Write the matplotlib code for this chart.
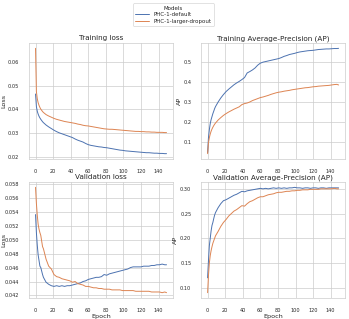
import matplotlib
matplotlib.use("Agg")
import matplotlib.pyplot as plt
import seaborn as sns

epochs = [0, 1, 2, 3, 4, 5, 6, 7, 8, 9,
          12, 15, 18, 21, 24, 27, 30, 33, 36, 39,
          42, 45, 48, 51, 54, 57, 60, 63, 66, 69,
          72, 75, 78, 81, 84, 87, 90, 93, 96, 99,
          102, 105, 108, 111, 114, 117, 120, 123, 126, 129,
          132, 135, 138, 141, 144, 147, 149]

models = ["PHC-1-default", "PHC-1-larger-dropout"]

train_loss_default = [0.0465, 0.0412, 0.0392, 0.0380, 0.0371, 0.0364, 0.0358, 0.0353, 0.0348, 0.0344,
                      0.0334, 0.0326, 0.0319, 0.0312, 0.0306, 0.0301, 0.0297, 0.0293, 0.0289, 0.0285,
                      0.0281, 0.0275, 0.0270, 0.0266, 0.0262, 0.0256, 0.0251, 0.0248, 0.0246, 0.0244,
                      0.0242, 0.0241, 0.0239, 0.0238, 0.0236, 0.0234, 0.0232, 0.0230, 0.0228, 0.0227,
                      0.0225, 0.0224, 0.0223, 0.0222, 0.0221, 0.0220, 0.0219, 0.0218, 0.0217, 0.0217,
                      0.0216, 0.0215, 0.0215, 0.0214, 0.0214, 0.0213, 0.0213]
train_loss_dropout = [0.0658, 0.0475, 0.0445, 0.0428, 0.0417, 0.0408, 0.0401, 0.0396, 0.0391, 0.0387,
                      0.0378, 0.0372, 0.0367, 0.0362, 0.0358, 0.0355, 0.0352, 0.0349, 0.0347, 0.0345,
                      0.0343, 0.0341, 0.0338, 0.0336, 0.0333, 0.0331, 0.0330, 0.0328, 0.0326, 0.0324,
                      0.0322, 0.0320, 0.0318, 0.0317, 0.0316, 0.0316, 0.0315, 0.0314, 0.0313, 0.0312,
                      0.0311, 0.0310, 0.0309, 0.0308, 0.0307, 0.0307, 0.0306, 0.0306, 0.0305, 0.0305,
                      0.0304, 0.0304, 0.0303, 0.0303, 0.0303, 0.0302, 0.0302]

train_ap_default = [0.045, 0.120, 0.160, 0.190, 0.210, 0.225, 0.240, 0.252, 0.265, 0.275,
                    0.298, 0.318, 0.335, 0.350, 0.362, 0.373, 0.384, 0.393, 0.401, 0.410,
                    0.420, 0.443, 0.450, 0.458, 0.468, 0.482, 0.492, 0.497, 0.500, 0.503,
                    0.506, 0.509, 0.512, 0.515, 0.520, 0.526, 0.530, 0.535, 0.538, 0.541,
                    0.545, 0.548, 0.550, 0.552, 0.554, 0.555, 0.556, 0.558, 0.560, 0.561,
                    0.562, 0.563, 0.563, 0.564, 0.565, 0.565, 0.566]
train_ap_dropout = [0.040, 0.095, 0.120, 0.138, 0.152, 0.163, 0.172, 0.180, 0.187, 0.193,
                    0.208, 0.220, 0.231, 0.240, 0.248, 0.255, 0.262, 0.268, 0.274, 0.285,
                    0.290, 0.293, 0.298, 0.305, 0.310, 0.315, 0.320, 0.323, 0.327, 0.331,
                    0.336, 0.340, 0.344, 0.347, 0.349, 0.352, 0.354, 0.356, 0.359, 0.361,
                    0.363, 0.365, 0.367, 0.369, 0.370, 0.372, 0.374, 0.375, 0.377, 0.378,
                    0.379, 0.380, 0.381, 0.383, 0.385, 0.386, 0.383]

val_loss_default = [0.0536, 0.0510, 0.0492, 0.0478, 0.0470, 0.0462, 0.0460, 0.0455, 0.0450, 0.0446,
                    0.0439, 0.0436, 0.0434, 0.0433, 0.0434, 0.0433, 0.0434, 0.0433, 0.0434, 0.0434,
                    0.0435, 0.0436, 0.0437, 0.0438, 0.0440, 0.0441, 0.0443, 0.0444, 0.0445, 0.0446,
                    0.0446, 0.0447, 0.0450, 0.0449, 0.0451, 0.0452, 0.0453, 0.0454, 0.0455, 0.0456,
                    0.0457, 0.0458, 0.0460, 0.0461, 0.0461, 0.0461, 0.0461, 0.0462, 0.0462, 0.0462,
                    0.0463, 0.0463, 0.0464, 0.0464, 0.0465, 0.0464, 0.0464]
val_loss_dropout = [0.0575, 0.0552, 0.0535, 0.0522, 0.0515, 0.0510, 0.0506, 0.0498, 0.0490, 0.0487,
                    0.0472, 0.0462, 0.0458, 0.0450, 0.0447, 0.0446, 0.0444, 0.0443, 0.0442, 0.0441,
                    0.0439, 0.0440, 0.0437, 0.0436, 0.0435, 0.0433, 0.0433, 0.0432, 0.0431, 0.0431,
                    0.0430, 0.0430, 0.0429, 0.0429, 0.0429, 0.0428, 0.0428, 0.0428, 0.0428, 0.0427,
                    0.0427, 0.0427, 0.0427, 0.0427, 0.0426, 0.0426, 0.0426, 0.0426, 0.0426, 0.0426,
                    0.0425, 0.0425, 0.0425, 0.0425, 0.0424, 0.0425, 0.0424]

val_ap_default = [0.120, 0.155, 0.185, 0.200, 0.215, 0.226, 0.232, 0.240, 0.247, 0.252,
                  0.262, 0.270, 0.276, 0.278, 0.281, 0.284, 0.287, 0.289, 0.292, 0.295,
                  0.294, 0.296, 0.297, 0.298, 0.299, 0.300, 0.301, 0.300, 0.301, 0.300,
                  0.301, 0.302, 0.301, 0.302, 0.301, 0.302, 0.301, 0.302, 0.302, 0.303,
                  0.302, 0.302, 0.301, 0.302, 0.302, 0.301, 0.302, 0.302, 0.301, 0.302,
                  0.302, 0.301, 0.302, 0.302, 0.302, 0.302, 0.302]
val_ap_dropout = [0.090, 0.125, 0.150, 0.165, 0.175, 0.183, 0.190, 0.195, 0.200, 0.205,
                  0.214, 0.224, 0.232, 0.238, 0.245, 0.250, 0.255, 0.258, 0.262, 0.266,
                  0.265, 0.270, 0.274, 0.276, 0.279, 0.282, 0.284, 0.284, 0.286, 0.288,
                  0.289, 0.290, 0.292, 0.293, 0.293, 0.294, 0.295, 0.295, 0.296, 0.296,
                  0.297, 0.297, 0.298, 0.298, 0.298, 0.299, 0.299, 0.299, 0.299, 0.300,
                  0.300, 0.300, 0.300, 0.300, 0.301, 0.300, 0.300]

sns.set_theme(style="whitegrid")
plt.rcParams['font.family'] = ['DejaVu Sans']
colors = sns.color_palette("deep")[:2]

fig, axes = plt.subplots(2, 2, figsize=(3.49, 3.19), dpi=100)
fig.subplots_adjust(left=0.083, right=0.989, top=0.865, bottom=0.066, wspace=0.194, hspace=0.2)

panels = [
    (axes[0, 0], "Training loss", "Loss", train_loss_default, train_loss_dropout),
    (axes[0, 1], "Training Average-Precision (AP)", "AP", train_ap_default, train_ap_dropout),
    (axes[1, 0], "Validation loss", "Loss", val_loss_default, val_loss_dropout),
    (axes[1, 1], "Validation Average-Precision (AP)", "AP", val_ap_default, val_ap_dropout),
]

for ax, title, ylabel, y_def, y_drop in panels:
    ax.plot(epochs, y_def, color=colors[0], lw=0.7, label=models[0])
    ax.plot(epochs, y_drop, color=colors[1], lw=0.7, label=models[1])
    ax.set_title(title, fontsize=5.2, pad=2.2)
    ax.set_ylabel(ylabel, fontsize=4.6, labelpad=1.2)
    ax.set_xticks(range(0, 141, 20))
    ax.tick_params(labelsize=3.6, pad=1.0)
    ax.grid(lw=0.5)
    for s in ax.spines.values():
        s.set_linewidth(0.5)

# the 5-char tick labels push this label off the edge, so pin it
axes[1, 0].yaxis.set_label_coords(-0.16, 0.5)
axes[1, 0].set_xlabel("Epoch", fontsize=4.6, labelpad=1)
axes[1, 1].set_xlabel("Epoch", fontsize=4.6, labelpad=1)
axes[0, 0].set_yticks([0.02, 0.03, 0.04, 0.05, 0.06])
axes[0, 1].set_yticks([0.1, 0.2, 0.3, 0.4, 0.5])
axes[1, 0].set_yticks([0.042, 0.044, 0.046, 0.048, 0.050, 0.052, 0.054, 0.056, 0.058])
axes[1, 1].set_yticks([0.10, 0.15, 0.20, 0.25, 0.30])

handles, labels = axes[0, 0].get_legend_handles_labels()
leg = fig.legend(handles, labels, title="Models", loc="upper center",
                 bbox_to_anchor=(0.497, 0.998), fontsize=4.0, title_fontsize=4.0,
                 frameon=True, borderpad=0.4, handlelength=2.5, labelspacing=0.3)
leg.get_frame().set_linewidth(0.5)

fig.savefig("out.png", dpi=100)
